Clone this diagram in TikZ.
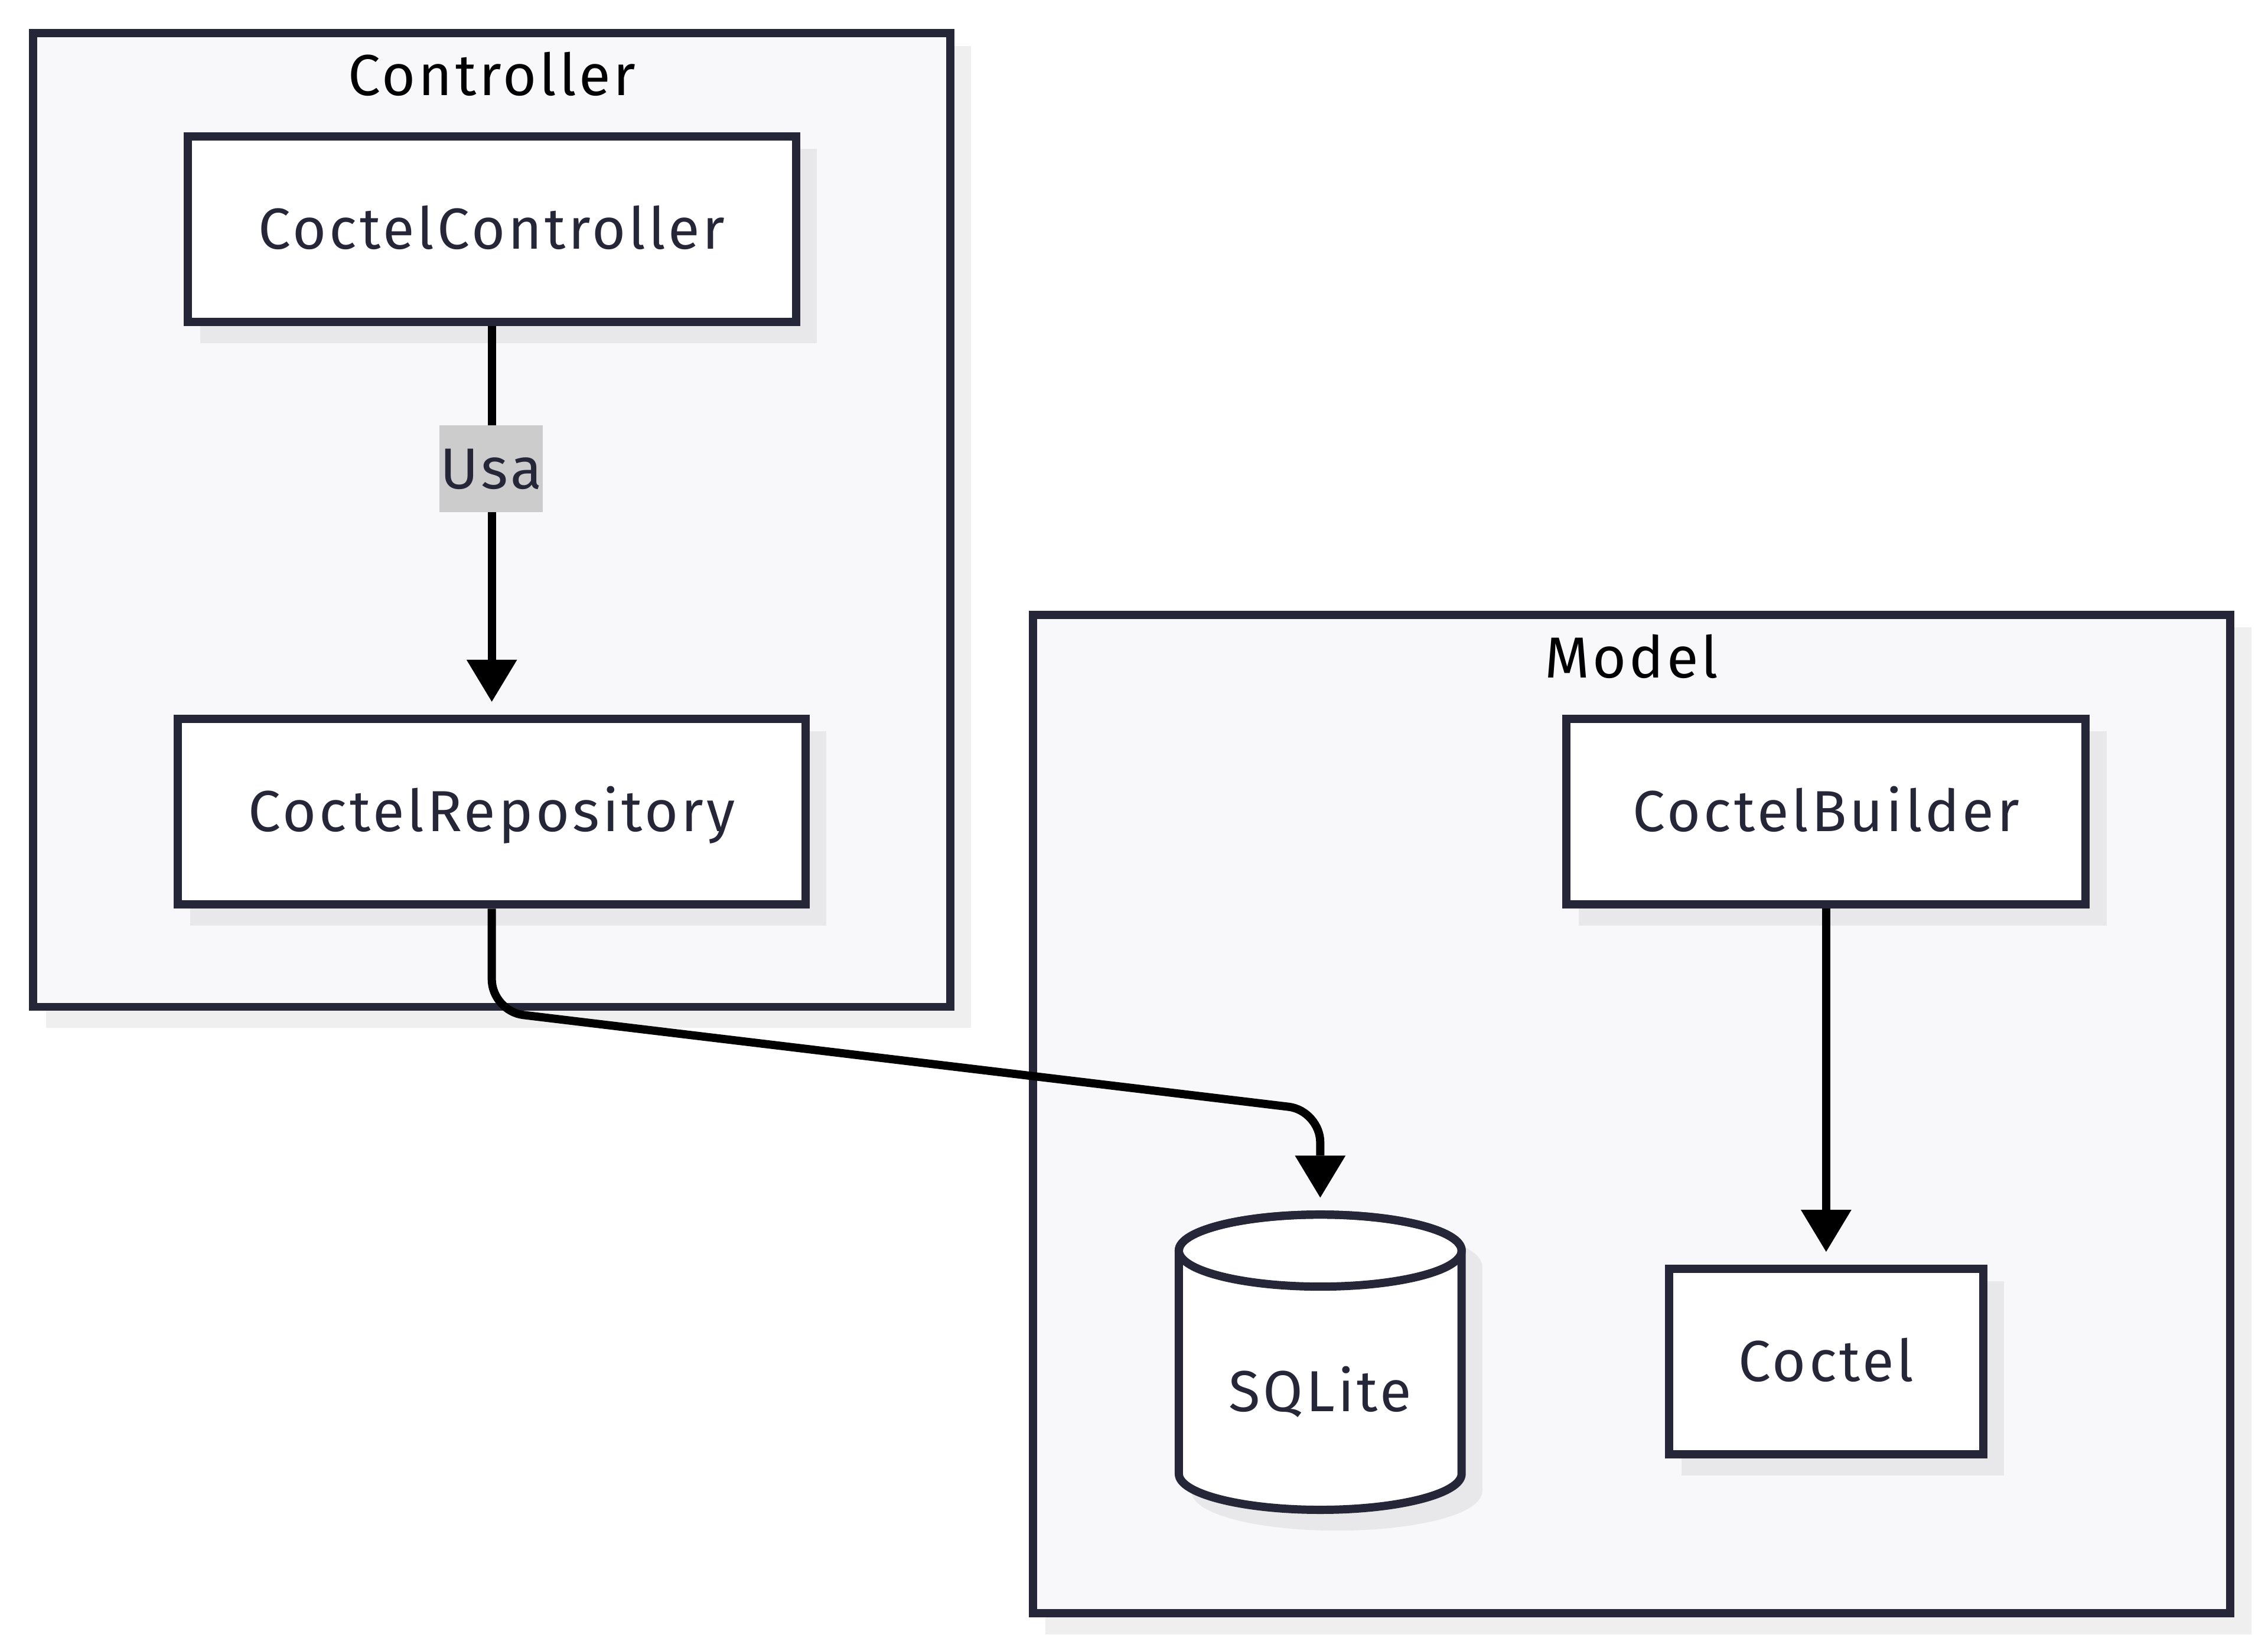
\documentclass[tikz,border=0pt]{standalone}
\usepackage{fontspec}
\setmainfont{Fira Sans}[LetterSpace=5]
\usetikzlibrary{arrows.meta}
\definecolor{strk}{HTML}{262639}
\definecolor{clfill}{HTML}{F8F8FA}
\definecolor{clshadow}{HTML}{EFEFEF}
\definecolor{ndshadow}{HTML}{E8E8EA}
\definecolor{lblbg}{HTML}{CCCCCC}
\pgfdeclarelayer{bg}
\pgfdeclarelayer{shd}
\pgfsetlayers{bg,shd,main}
\tikzset{
  txt/.style={font=\fontsize{40}{46}\selectfont, text height=27.5pt, text depth=0pt, inner sep=0pt},
  box/.style={txt, draw=strk, line width=5.7pt, fill=white, text=strk, rectangle},
  cluster/.style={draw=strk, line width=5.7pt, fill=clfill, rectangle, inner sep=0pt},
  title/.style={txt, text=black},
  lbl/.style={txt, fill=lblbg, text=strk, minimum width=71.4pt, minimum height=59.9pt},
  edge/.style={draw=black, line width=5.7pt, -{Triangle[length=29pt,width=35pt,line width=0pt]}, shorten >=9pt},
  nshadow/.style={fill=ndshadow},
}
\begin{document}
\begin{tikzpicture}[x=1pt,y=-1pt]
\useasboundingbox (0,0) rectangle (1568,1140.9);
% clusters
\begin{pgfonlayer}{bg}
  \fill[clshadow] (31.65,31.65) rectangle (671.35,710.35);
  \fill[clshadow] (722.65,433.65) rectangle (1556.35,1129.65);
  \node[cluster, minimum width=634pt, minimum height=673pt] (ctrlcl) at (340,359.5) {};
  \node[cluster, minimum width=828pt, minimum height=690.3pt] (modelcl) at (1128,770.15) {};
\end{pgfonlayer}
\node[title] (ctrltitle) at (340,52) {Controller};
\node[title] (modeltitle) at (1128,455) {Model};
% nodes
\node[box, minimum width=420.5pt, minimum height=128.4pt] (cc) at (340,158.5) {CoctelController};
\node[box, minimum width=434pt, minimum height=128.4pt] (cr) at (340,561.1) {CoctelRepository};
\node[box, minimum width=359pt, minimum height=128.4pt] (cb) at (1262.5,561.1) {CoctelBuilder};
\node[box, minimum width=217.2pt, minimum height=128.3pt] (co) at (1262.5,941.3) {Coctel};
% shadows and cylinder
\begin{pgfonlayer}{shd}
  \foreach \n in {cc,cr,cb,co}
    \fill[nshadow] ([shift={(11.5,11.5)}]\n.north west) rectangle ([shift={(11.5,11.5)}]\n.south east);
  \begin{scope}[shift={(11.5,11.5)}]
    \filldraw[ndshadow, line width=5.7pt] (815,864.5) -- (815,1018.8)
      arc[start angle=180,end angle=0,x radius=97.75,y radius=24.9]
      -- (1010.5,864.5) arc[start angle=0,end angle=-180,x radius=97.75,y radius=24.9] -- cycle;
  \end{scope}
\end{pgfonlayer}
\filldraw[draw=strk, fill=white, line width=5.7pt] (815,864.5) -- (815,1018.8)
  arc[start angle=180,end angle=0,x radius=97.75,y radius=24.9]
  -- (1010.5,864.5) arc[start angle=0,end angle=-180,x radius=97.75,y radius=24.9] -- cycle;
\draw[strk, line width=5.7pt] (912.75,864.5) ellipse[x radius=97.75, y radius=24.9];
\node[txt, text=strk] (sqlite) at (912.75,962) {SQLite};
\coordinate (sqltop) at (912.75,836.85);
% edges
\coordinate (c1) at (340,699);
\coordinate (c2) at (912.75,767.7);
\draw[edge] (cc.south) -- (cr.north);
\node[lbl] (usa) at (339.6,324) {Usa};
\draw[edge] (cb.south) -- (co.north);
\draw[edge, rounded corners=22pt] (cr.south) -- (c1) -- (c2) -- (sqltop);
\end{tikzpicture}
\end{document}
